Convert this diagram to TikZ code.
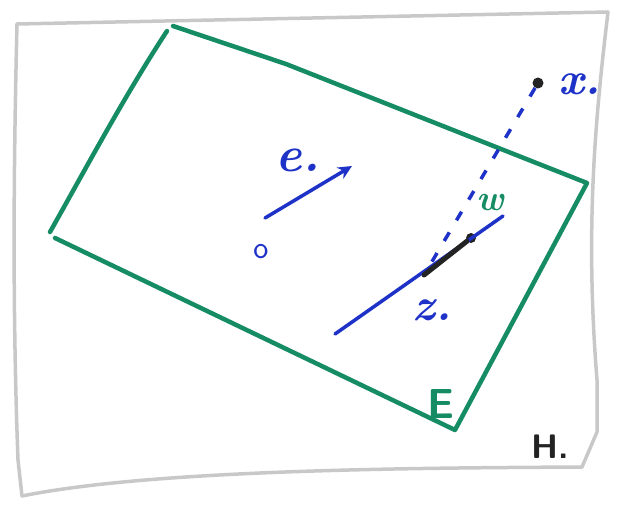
\documentclass[tikz,border=0pt]{standalone}
\usepackage{fontspec}
\usepackage{tikz}
\usetikzlibrary{arrows.meta}
\definecolor{frame}{RGB}{200,200,200}
\definecolor{plane}{RGB}{22,140,100}
\definecolor{ink}{RGB}{30,50,200}
\definecolor{dark}{RGB}{35,35,35}
\tikzset{
  framestyle/.style={draw=frame, line width=3.5pt, line cap=round, line join=round},
  planestyle/.style={draw=plane, line width=4.5pt, line cap=round, line join=round},
  inkline/.style={draw=ink, line width=3.5pt, line cap=round},
  dashline/.style={draw=ink, line width=3.5pt, dash pattern=on 10pt off 14pt},
  lbl/.style={inner sep=0pt},
  dotstyle/.style={circle, fill=dark, inner sep=0pt, minimum size=11pt}
}
\begin{document}
\begin{tikzpicture}[x=1pt,y=-1pt]
\useasboundingbox (0,0) rectangle (620,508);
% frame H
\coordinate (Htl) at (17,24);
\coordinate (Htr) at (608,12);
\coordinate (Hbr) at (582,467);
\coordinate (Hbl) at (22,496);
\draw[framestyle] (Htl) -- (Htr);
\draw[framestyle] (Htr) .. controls (595,120) and (585,230) .. (597,380) -- (597,432) -- (Hbr);
\draw[framestyle] (Hbr) .. controls (400,468) and (150,470) .. (Hbl);
\draw[framestyle] (Hbl) -- (18,460) .. controls (12,300) and (14,150) .. (Htl);
\node[lbl, font=\fontsize{34}{36}\selectfont\sffamily\bfseries, text=dark] (H) at (550,447) {H.};
% plane E
\coordinate (Etop) at (173,26);
\coordinate (Etop2) at (167,31);
\coordinate (Eright) at (587,183);
\coordinate (Ebot) at (455,430);
\coordinate (Eleft) at (55,238);
\coordinate (Eleft2) at (50,232);
\draw[planestyle] (Etop) -- (286,64) -- (Eright) -- (Ebot) -- (Eleft);
\draw[planestyle] (Eleft2) .. controls (85,170) and (125,95) .. (Etop2);
\node[lbl, text=plane, font=\fontsize{42}{44}\selectfont\sffamily\bfseries] (E) at (441,404) {E};
% origin and e
\node[lbl, text=ink, font=\fontsize{32}{34}\selectfont\sffamily] (O) at (261,252) {o};
\coordinate (e0) at (265,218);
\coordinate (e1) at (352,166);
\draw[inkline, -{Stealth[length=14pt,width=13pt]}] (e0) -- (e1);
\node[lbl, text=ink, font=\fontsize{50}{52}\selectfont\bfseries\itshape] (elab) at (298,160) {e.};
% points
\node[dotstyle] (x) at (538,83) {};
\node[lbl, text=ink, font=\fontsize{46}{48}\selectfont\bfseries\itshape] (xlab) at (580,84) {x.};
\coordinate (z) at (424,275);
\node[dotstyle, minimum size=10pt] (w) at (471,238) {};
\node[lbl, text=ink, font=\fontsize{46}{48}\selectfont\bfseries\itshape] (zlab) at (432,310) {z.};
\node[lbl, text=plane, font=\fontsize{36}{38}\selectfont\bfseries\itshape] (wlab) at (490,202) {w};
% line through z
\coordinate (l0) at (335,334);
\coordinate (l1) at (503,216);
\draw[inkline] (l0) -- (l1);
% dashed
\draw[dashline] (x) -- (z);
% vector z -> w
\draw[draw=dark, line width=5pt, line cap=round] (z) -- (w);
\end{tikzpicture}
\end{document}
